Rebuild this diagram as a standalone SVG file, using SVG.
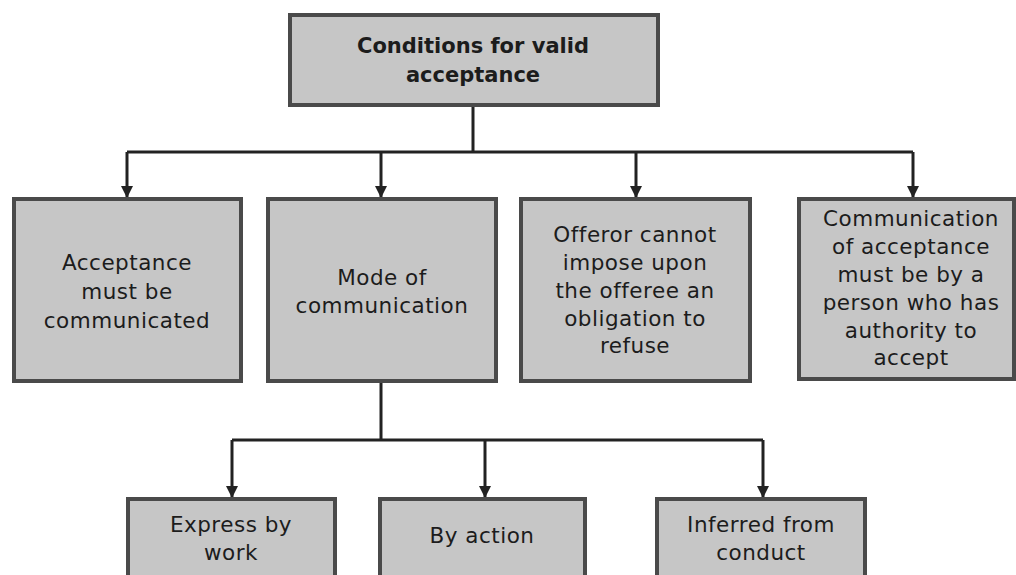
<svg xmlns="http://www.w3.org/2000/svg" width="1016" height="575" viewBox="0 0 1016 575">
  <style>
    .box { fill: #c6c6c6; stroke: #4a4a4a; stroke-width: 4; }
    .lbl { font-family: "DejaVu Sans", "Liberation Sans", sans-serif; font-size: 21.5px; letter-spacing: 0.5px; fill: #1c1c1c; text-anchor: middle; }
    .title { font-weight: bold; font-size: 21px; letter-spacing: 0; }
    .wire { fill: none; stroke: #222; stroke-width: 3; }
    .arrow { fill: none; stroke: #222; stroke-width: 3; marker-end: url(#head); }
  </style>
  <defs>
    <marker id="head" viewBox="0 0 12 12" refX="12" refY="6" markerWidth="12" markerHeight="12" markerUnits="userSpaceOnUse" orient="auto">
      <path d="M0,0 L12,6 L0,12 z" fill="#222"/>
    </marker>
  </defs>
  <rect width="1016" height="575" fill="#ffffff"/>

  <!-- connectors -->
  <g id="connectors">
    <path class="wire" d="M473,107 V152 M127,152 H913"/>
    <path class="arrow" d="M127,152 V198"/>
    <path class="arrow" d="M381,152 V198"/>
    <path class="arrow" d="M636,152 V198"/>
    <path class="arrow" d="M913,152 V198"/>
    <path class="wire" d="M381,383 V440 M232,440 H763"/>
    <path class="arrow" d="M232,440 V498"/>
    <path class="arrow" d="M485,440 V498"/>
    <path class="arrow" d="M763,440 V498"/>
  </g>

  <!-- root -->
  <g id="root">
    <rect class="box" x="290" y="15" width="368" height="90"/>
    <text class="lbl title" x="473" y="53">Conditions for valid</text>
    <text class="lbl title" x="473" y="82">acceptance</text>
  </g>

  <g id="must-be-communicated">
    <rect class="box" x="14" y="199" width="227" height="182"/>
    <text class="lbl" x="127" y="270">Acceptance</text>
    <text class="lbl" x="127" y="299">must be</text>
    <text class="lbl" x="127" y="328">communicated</text>
  </g>

  <g id="mode-of-communication">
    <rect class="box" x="268" y="199" width="228" height="182"/>
    <text class="lbl" x="382" y="285">Mode of</text>
    <text class="lbl" x="382" y="313">communication</text>
  </g>

  <g id="offeror-cannot-impose">
    <rect class="box" x="521" y="199" width="229" height="182"/>
    <text class="lbl" x="635" y="242">Offeror cannot</text>
    <text class="lbl" x="635" y="270">impose upon</text>
    <text class="lbl" x="635" y="298">the offeree an</text>
    <text class="lbl" x="635" y="326">obligation to</text>
    <text class="lbl" x="635" y="353">refuse</text>
  </g>

  <g id="authorised-person">
    <rect class="box" x="799" y="199" width="215" height="180"/>
    <text class="lbl" x="911" y="226">Communication</text>
    <text class="lbl" x="911" y="254">of acceptance</text>
    <text class="lbl" x="911" y="282">must be by a</text>
    <text class="lbl" x="911" y="310">person who has</text>
    <text class="lbl" x="911" y="338">authority to</text>
    <text class="lbl" x="911" y="365">accept</text>
  </g>

  <g id="express-by-work">
    <rect class="box" x="128" y="499" width="207" height="100"/>
    <text class="lbl" x="231" y="532">Express by</text>
    <text class="lbl" x="231" y="560">work</text>
  </g>

  <g id="by-action">
    <rect class="box" x="380" y="499" width="205" height="100"/>
    <text class="lbl" x="482" y="543">By action</text>
  </g>

  <g id="inferred-from-conduct">
    <rect class="box" x="657" y="499" width="208" height="100"/>
    <text class="lbl" x="761" y="532">Inferred from</text>
    <text class="lbl" x="761" y="560">conduct</text>
  </g>
</svg>
